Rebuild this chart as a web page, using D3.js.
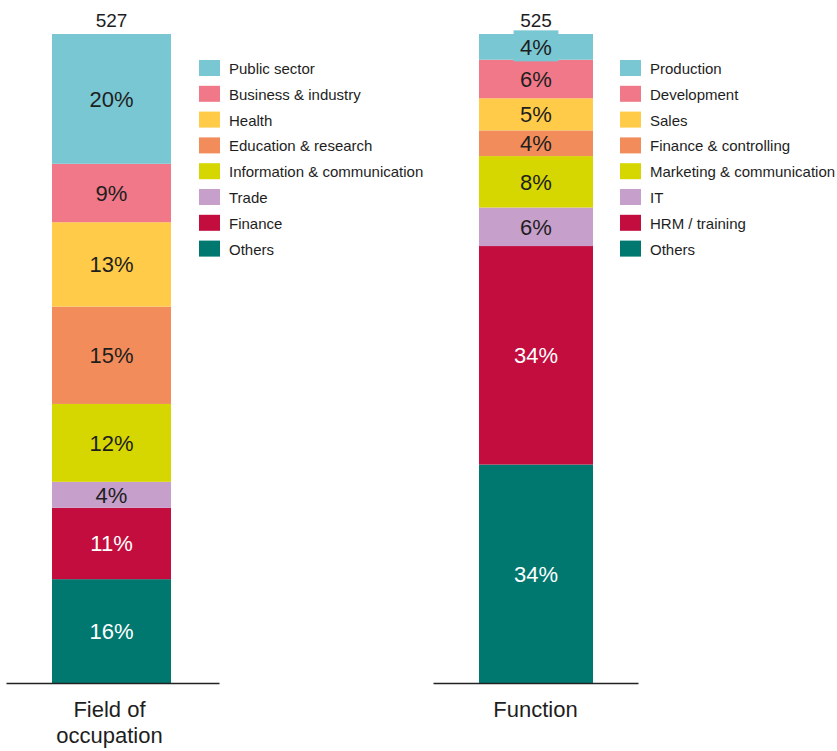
<!DOCTYPE html>
<html>
<head>
<meta charset="utf-8">
<script src="https://cdn.jsdelivr.net/npm/d3@7"></script>
<style>
  html, body { margin: 0; padding: 0; background: #fff; }
  svg { display: block; font-family: "Liberation Sans", Arial, sans-serif; }
</style>
</head>
<body>
<svg id="chart" width="837" height="751"></svg>
<script>
// Shares (%) per bar, listed from top segment to bottom segment
const occupationCategories = ["Public sector", "Business & industry", "Health", "Education & research",
  "Information & communication", "Trade", "Finance", "Others"];
const occupationValues = [20, 9, 13, 15, 12, 4, 11, 16];
const occupationTotal = 527;

const functionCategories = ["Production", "Development", "Sales", "Finance & controlling",
  "Marketing & communication", "IT", "HRM / training", "Others"];
const functionValues = [4, 6, 5, 4, 8, 6, 34, 34];
const functionTotal = 525;

const barTitles = [["Field of", "occupation"], ["Function"]];

// Shared palette, one colour per stacking position (top to bottom)
const palette = ["#79C7D2", "#F07888", "#FFCB48", "#F28C5A", "#D6D600", "#C69FCB", "#C20D3E", "#007870"];
const darkFill = new Set(["#C20D3E", "#007870"]);

const svg = d3.select("#chart");
const yTop = 34, yBase = 683;

const panels = [
  { cats: occupationCategories, vals: occupationValues, n: occupationTotal, title: barTitles[0],
    axisX: [6, 219], barX: 52, barW: 119, legendX: 199 },
  { cats: functionCategories, vals: functionValues, n: functionTotal, title: barTitles[1],
    axisX: [433, 638], barX: 479, barW: 114, legendX: 620 }
];

panels.forEach(p => {
  const g = svg.append("g");
  const sum = d3.sum(p.vals);
  const y = d3.scaleLinear().domain([0, sum]).range([yBase, yTop]);
  const color = d3.scaleOrdinal().domain(p.cats).range(palette);

  // stack bottom-up: last listed category sits on the baseline
  const order = d3.range(p.cats.length).reverse();
  let acc = 0;
  const segs = order.map(i => {
    const s = { cat: p.cats[i], v: p.vals[i], y0: acc, y1: acc + p.vals[i], top: i === 0 };
    acc += p.vals[i];
    return s;
  });

  g.selectAll("rect.seg").data(segs).join("rect")
    .attr("class", "seg")
    .attr("x", p.barX)
    .attr("width", p.barW)
    .attr("y", d => y(d.y1))
    .attr("height", d => y(d.y0) - y(d.y1))
    .attr("fill", d => color(d.cat));

  // value labels
  const cx = p.barX + p.barW / 2;
  const lab = g.selectAll("g.lab").data(segs).join("g")
    .attr("class", "lab")
    .attr("transform", d => `translate(${cx},${(y(d.y0) + y(d.y1)) / 2})`);

  lab.each(function(d) {
    const sel = d3.select(this);
    const h = y(d.y0) - y(d.y1);
    const t = sel.append("text")
      .attr("text-anchor", "middle")
      .attr("dy", "0.36em")
      .attr("font-size", 22)
      .attr("fill", darkFill.has(color(d.cat)) ? "#ffffff" : "#1e1e1e")
      .text(d.v + "%");
    // a thin segment at the top of the bar gets a label box in its own colour
    if (d.top && h < 28) {
      const w = t.node().getComputedTextLength();
      sel.insert("rect", "text")
        .attr("x", -w / 2 - 6.5)
        .attr("y", -16.5)
        .attr("width", w + 13)
        .attr("height", 31)
        .attr("fill", color(d.cat));
    }
  });

  // respondent count above the bar
  g.append("text")
    .attr("x", cx)
    .attr("y", yTop - 7)
    .attr("text-anchor", "middle")
    .attr("font-size", 19)
    .attr("fill", "#1e1e1e")
    .text(p.n);

  // baseline axis with bar title
  const x = d3.scaleBand().domain([p.title.join(" ")]).range(p.axisX);
  const ax = g.append("g")
    .attr("transform", `translate(0,${yBase})`)
    .call(d3.axisBottom(x).tickSize(0).tickSizeOuter(0));
  ax.select(".domain").attr("stroke", "#222").attr("stroke-width", 1.5);
  ax.selectAll(".tick text").each(function() {
    const t = d3.select(this)
      .attr("font-size", 22)
      .attr("font-family", "Liberation Sans, Arial, sans-serif")
      .attr("fill", "#1e1e1e")
      .attr("y", 0).attr("dy", null)
      .text(null);
    p.title.forEach((line, i) => {
      t.append("tspan").attr("x", -3 * (p.title.length > 1)).attr("y", 34 + i * 26).text(line);
    });
  });

  // legend, same order as the stack (top to bottom)
  const leg = g.selectAll("g.leg").data(p.cats).join("g")
    .attr("class", "leg")
    .attr("transform", (d, i) => `translate(${p.legendX},${60 + i * 25.8})`);
  leg.append("rect")
    .attr("width", 21).attr("height", 16)
    .attr("fill", d => color(d));
  leg.append("text")
    .attr("x", 30).attr("y", 14)
    .attr("font-size", 15)
    .attr("fill", "#1e1e1e")
    .text(d => d);
});
</script>
</body>
</html>
